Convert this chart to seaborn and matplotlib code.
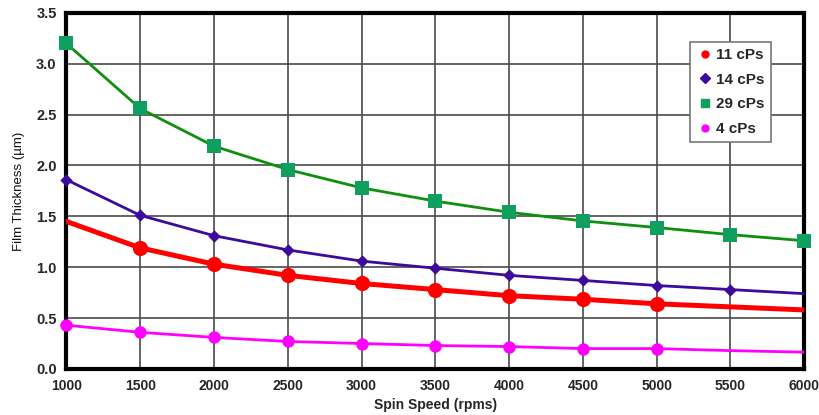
import matplotlib
matplotlib.use('Agg')

import matplotlib.pyplot as plt
import seaborn as sns
import pandas as pd
from matplotlib.lines import Line2D

# spin curves, one value per 500 rpm
speeds = [1000, 1500, 2000, 2500, 3000, 3500, 4000, 4500, 5000, 5500, 6000]
cps11 = [1.45, 1.19, 1.03, 0.92, 0.84, 0.78, 0.72, 0.685, 0.64, 0.61, 0.58]
cps14 = [1.86, 1.51, 1.31, 1.17, 1.06, 0.99, 0.92, 0.87, 0.82, 0.78, 0.74]
cps29 = [3.20, 2.56, 2.19, 1.96, 1.78, 1.65, 1.54, 1.455, 1.39, 1.32, 1.26]
cps4 = [0.43, 0.36, 0.31, 0.27, 0.25, 0.23, 0.22, 0.20, 0.20, 0.18, 0.165]

# which speeds carry a marker for each series
marked11 = [1500, 2000, 2500, 3000, 3500, 4000, 4500, 5000]
marked14 = [1000, 1500, 2000, 2500, 3000, 3500, 4000, 4500, 5000, 5500]
marked29 = speeds
marked4 = [1000, 1500, 2000, 2500, 3000, 3500, 4000, 4500, 5000]

labels = ['11 cPs', '14 cPs', '29 cPs', '4 cPs']

series = [
    # label, values, marked, line colour, marker colour, marker, marker size, line width
    (labels[0], cps11, marked11, '#ff0000', '#ff0000', 'o', 120, 3.6),
    (labels[1], cps14, marked14, '#3d0a9c', '#3d0a9c', 'D', 40, 2.0),
    (labels[2], cps29, marked29, '#0e8f0e', '#0fa060', 's', 90, 2.0),
    (labels[3], cps4, marked4, '#ff00ff', '#ff00ff', 'o', 80, 2.0),
]

rows = []
for name, vals, marked, *_ in series:
    for s, v in zip(speeds, vals):
        rows.append({'speed': s, 'thickness': v, 'fluid': name, 'marked': s in marked})
df = pd.DataFrame(rows)

sns.set_style('white')
plt.rcParams['font.family'] = ['Liberation Sans', 'DejaVu Sans']

fig = plt.figure(figsize=(8.19, 4.15), dpi=100)
ax = fig.add_axes([0.081, 0.111, 0.901, 0.858])

ax.set_xlim(1000, 6000)
ax.set_ylim(0, 3.5)
ax.set_xticks(range(1000, 6001, 500))
ax.set_yticks([i * 0.5 for i in range(8)])
ax.grid(True, color='#4a4a4a', linewidth=1.2)
ax.set_axisbelow(True)

handles = []
for name, vals, marked, lc, mc, mk, ms, lw in series:
    sub = df[df['fluid'] == name]
    sns.lineplot(data=sub, x='speed', y='thickness', color=lc, linewidth=lw,
                 ax=ax, legend=False, zorder=3)
    pts = sub[sub['marked']]
    sns.scatterplot(data=pts, x='speed', y='thickness', color=mc, marker=mk,
                    s=ms, linewidth=0, ax=ax, legend=False, zorder=4, clip_on=False)
    handles.append(Line2D([], [], linestyle='none', marker=mk, color=mc,
                          markersize=5 if mk != 's' else 6, label=name))

for side in ax.spines.values():
    side.set_linewidth(3)
    side.set_color('black')

ax.tick_params(axis='both', direction='out', length=4, width=1, color='#555555',
               pad=3)
ax.tick_params(axis='x', labelsize=10)
ax.tick_params(axis='y', labelsize=10.5)
ax.set_xticklabels([str(s) for s in range(1000, 6001, 500)], fontweight='bold')
ax.set_yticklabels(['%.1f' % (i * 0.5) for i in range(8)], fontweight='bold')
ax.set_xlabel('Spin Speed (rpms)', fontsize=10, fontweight='bold', labelpad=4)
ax.set_ylabel('Film Thickness (µm)', fontsize=9.5, labelpad=8, color='#111111')

leg = ax.legend(handles=handles, loc='upper left', bbox_to_anchor=(0.835, 0.94),
                frameon=True, fancybox=False, handletextpad=0.1, handlelength=1.2,
                borderpad=0.4, labelspacing=0.7, prop={'weight': 'bold', 'size': 11})
leg.get_frame().set_edgecolor('#777777')
leg.get_frame().set_linewidth(1.2)
leg.get_frame().set_alpha(1)

fig.savefig('out.png', dpi=100)
plt.close(fig)
